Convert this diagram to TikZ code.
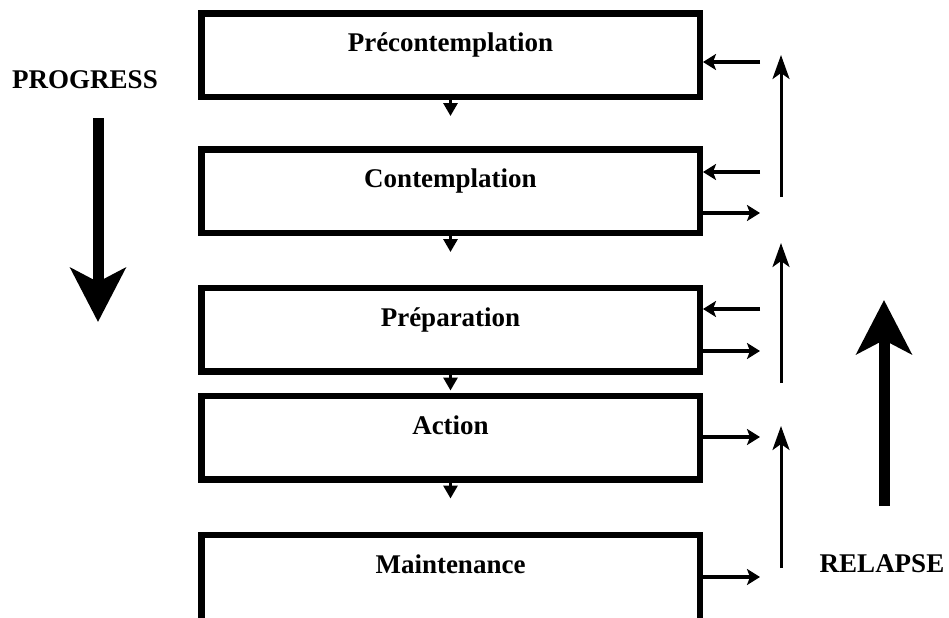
\documentclass[tikz,border=0pt]{standalone}
\usepackage{fontspec}
\setmainfont{Liberation Serif}
\usetikzlibrary{arrows.meta,positioning}
\tikzset{%
	stage/.style    = {draw, rectangle, line width=3.25pt, minimum width=249.25pt, minimum height=41.75pt, text height=10pt, text depth=13.4pt, font=\bfseries\fontsize{13.5}{16}\selectfont},
	sidetext/.style = {font=\bfseries\fontsize{13.5}{16}\selectfont, anchor=base}, % Side text
	waypoint/.style = {coordinate}, % Free end
}
\tikzset{%
	nextarr/.style  = {line width=1.5pt, -{Triangle[length=6.5pt,width=7pt]}},
	feedarr/.style  = {line width=1.75pt, -{Stealth[length=6.5pt,width=8pt,inset=1.5pt]}},
	relarr/.style   = {line width=1.5pt, -{Stealth[length=12pt,width=8.5pt,inset=3pt]}},
	bigarr/.style   = {line width=5.5pt, -{Stealth[length=27pt,width=27.5pt,inset=7pt]}},
}
\begin{document}
\begin{tikzpicture}[x=0.5pt,y=-0.5pt]
	\useasboundingbox (0,0) rectangle (949,617);
	\node [stage] (pre) at (450.5,55) {Précontemplation};
	\node [stage] (con) [below of=pre,node distance=68pt] {Contemplation};
	\node [stage] (prep) [below of=con,node distance=69.25pt] {Préparation};
	\node [stage] (act) [below of=prep,node distance=54pt] {Action};
	\node [stage,minimum height=49.75pt,text depth=21.4pt] (main) [below of=act,node distance=73.5pt] {Maintenance};
	\node [waypoint] (d1) [below of=pre,node distance=30.5pt] {};
	\node [waypoint] (d2) [below of=con,node distance=30.5pt] {};
	\node [waypoint] (d3) [below of=prep,node distance=30.5pt] {};
	\node [waypoint] (d4) [below of=act,node distance=30.5pt] {};
	
	\node [waypoint] (i1) at (760,62) {};
	\node [waypoint] (i2) at (760,172) {};
	\node [waypoint] (i3) at (760,309) {};
	\node [waypoint] (o2) at (760,213) {};
	\node [waypoint] (o3) at (760,351) {};
	\node [waypoint] (o4) at (760,437) {};
	\node [waypoint] (o5) at (760,577) {};
	\node [waypoint] (v1b) at (781,197) {};
	\node [waypoint] (v1t) at (781,55) {};
	\node [waypoint] (v2b) at (781,383) {};
	\node [waypoint] (v2t) at (781,243) {};
	\node [waypoint] (v3b) at (781,568) {};
	\node [waypoint] (v3t) at (781,426) {};
	
	\node [sidetext] (prog) at (85,88) {PROGRESS};
	\node [waypoint] (pt) at (98,118) {};
	\node [waypoint] (pb) at (98,322) {};
	\node [sidetext] (rel) at (882,572) {RELAPSE};
	\node [waypoint] (rb) at (884,506) {};
	\node [waypoint] (rt) at (884,300) {};
	
	\draw[nextarr] (pre) -- (d1);
	\draw[nextarr] (con) -- (d2);
	\draw[nextarr] (prep) -- (d3);
	\draw[nextarr] (act) -- (d4);
	
	\draw[feedarr] (i1) -- (i1 -| pre.east);
	\draw[feedarr] (i2) -- (i2 -| con.east);
	\draw[feedarr] (i3) -- (i3 -| prep.east);
	\draw[feedarr] (o2 -| con.east) -- (o2);
	\draw[feedarr] (o3 -| prep.east) -- (o3);
	\draw[feedarr] (o4 -| act.east) -- (o4);
	\draw[feedarr] (o5 -| main.east) -- (o5);
	\draw[relarr] (v1b) -- (v1t);
	\draw[relarr] (v2b) -- (v2t);
	\draw[relarr] (v3b) -- (v3t);
	
	\draw[bigarr] (pt) -- (pb);
	\draw[bigarr] (rb) -- (rt);
\end{tikzpicture}
\end{document}
